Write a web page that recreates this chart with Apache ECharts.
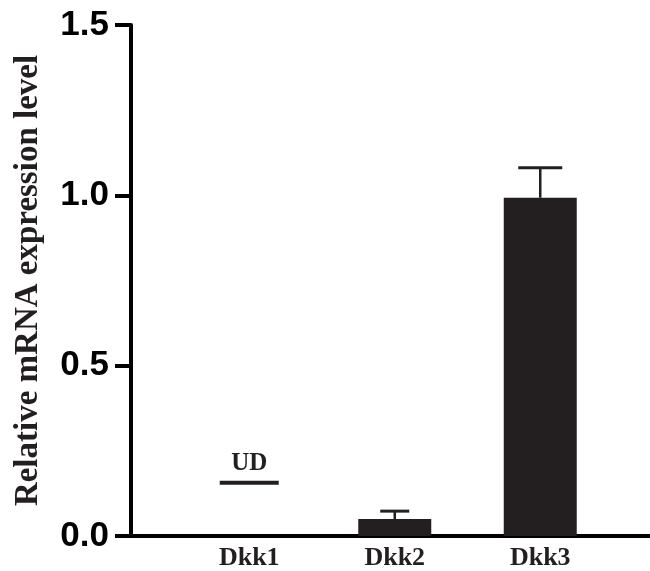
<!DOCTYPE html>
<html>
<head>
<meta charset="utf-8">
<script src="https://cdn.jsdelivr.net/npm/echarts@6/dist/echarts.min.js"></script>
<style>html,body{margin:0;padding:0;background:#fff}#c{width:650px;height:571px}</style>
</head>
<body>
<div id="c"></div>
<script>
var categories = ['Dkk1', 'Dkk2', 'Dkk3'];
var means = [null, 0.050, 0.993];
var errUpper = [null, 0.073, 1.081];
var udValues = [0.156, null, null];
var udLabel = 'UD';
var yTicks = [0, 0.5, 1.0, 1.5];

var capWidths = [0, 29, 44];
var barColor = '#231f20';

var chart = echarts.init(document.getElementById('c'));
var errData = categories.map(function (c, i) { return [i, means[i], errUpper[i]]; }).filter(function (d) { return d[1] != null; });

chart.setOption({
  animation: false,
  grid: [
    { left: 131, right: 0, top: 25, bottom: 35 },
    { left: 176.5, right: 37, top: 25, bottom: 35 }
  ],
  xAxis: [
    { gridIndex: 0, type: 'value', min: 0, max: 1, axisLine: { show: true, onZero: false, lineStyle: { color: '#000', width: 4 } }, axisTick: { show: false }, axisLabel: { show: false }, splitLine: { show: false } },
    { gridIndex: 1, type: 'category', data: categories, axisLine: { show: false }, axisTick: { show: false },
      axisLabel: { margin: 9, color: '#231f20', fontFamily: 'Liberation Serif', fontWeight: 'bold', fontSize: 26 } }
  ],
  yAxis: [
    { gridIndex: 0, type: 'value', min: 0, max: 1.5, interval: 0.5,
      name: 'Relative mRNA expression level', nameLocation: 'middle', nameGap: 86,
      nameTextStyle: { color: '#231f20', fontFamily: 'Liberation Serif', fontWeight: 'bold', fontSize: 33 },
      axisLine: { show: true, lineStyle: { color: '#000', width: 4 } },
      axisTick: { show: true, length: 16, lineStyle: { color: '#000', width: 4 } },
      axisLabel: { margin: 22, color: '#000', fontFamily: 'Liberation Sans', fontWeight: 'bold', fontSize: 35,
        formatter: function (v) { return v.toFixed(1); } },
      splitLine: { show: false } },
    { gridIndex: 1, type: 'value', min: 0, max: 1.5, interval: 0.5, show: false }
  ],
  series: [
    { type: 'bar', xAxisIndex: 1, yAxisIndex: 1, data: means, barWidth: 73, itemStyle: { color: barColor } },
    { type: 'custom', xAxisIndex: 1, yAxisIndex: 1, data: errData, z: 3,
      renderItem: function (params, api) {
        var idx = api.value(0);
        var top = api.coord([idx, api.value(2)]);
        var base = api.coord([idx, api.value(1)]);
        var hw = capWidths[idx] / 2;
        return { type: 'group', children: [
          { type: 'line', shape: { x1: top[0], y1: top[1], x2: base[0], y2: base[1] }, style: { stroke: barColor, lineWidth: 2.5 } },
          { type: 'line', shape: { x1: top[0] - hw, y1: top[1], x2: top[0] + hw, y2: top[1] }, style: { stroke: barColor, lineWidth: 3 } }
        ] };
      } },
    { type: 'scatter', xAxisIndex: 1, yAxisIndex: 1, data: udValues, symbol: 'rect', symbolSize: [59, 4],
      itemStyle: { color: barColor, opacity: 1 },
      label: { show: true, position: 'top', distance: 5, formatter: udLabel, color: '#231f20', fontFamily: 'Liberation Serif', fontWeight: 'bold', fontSize: 25 } }
  ]
});
</script>
</body>
</html>
